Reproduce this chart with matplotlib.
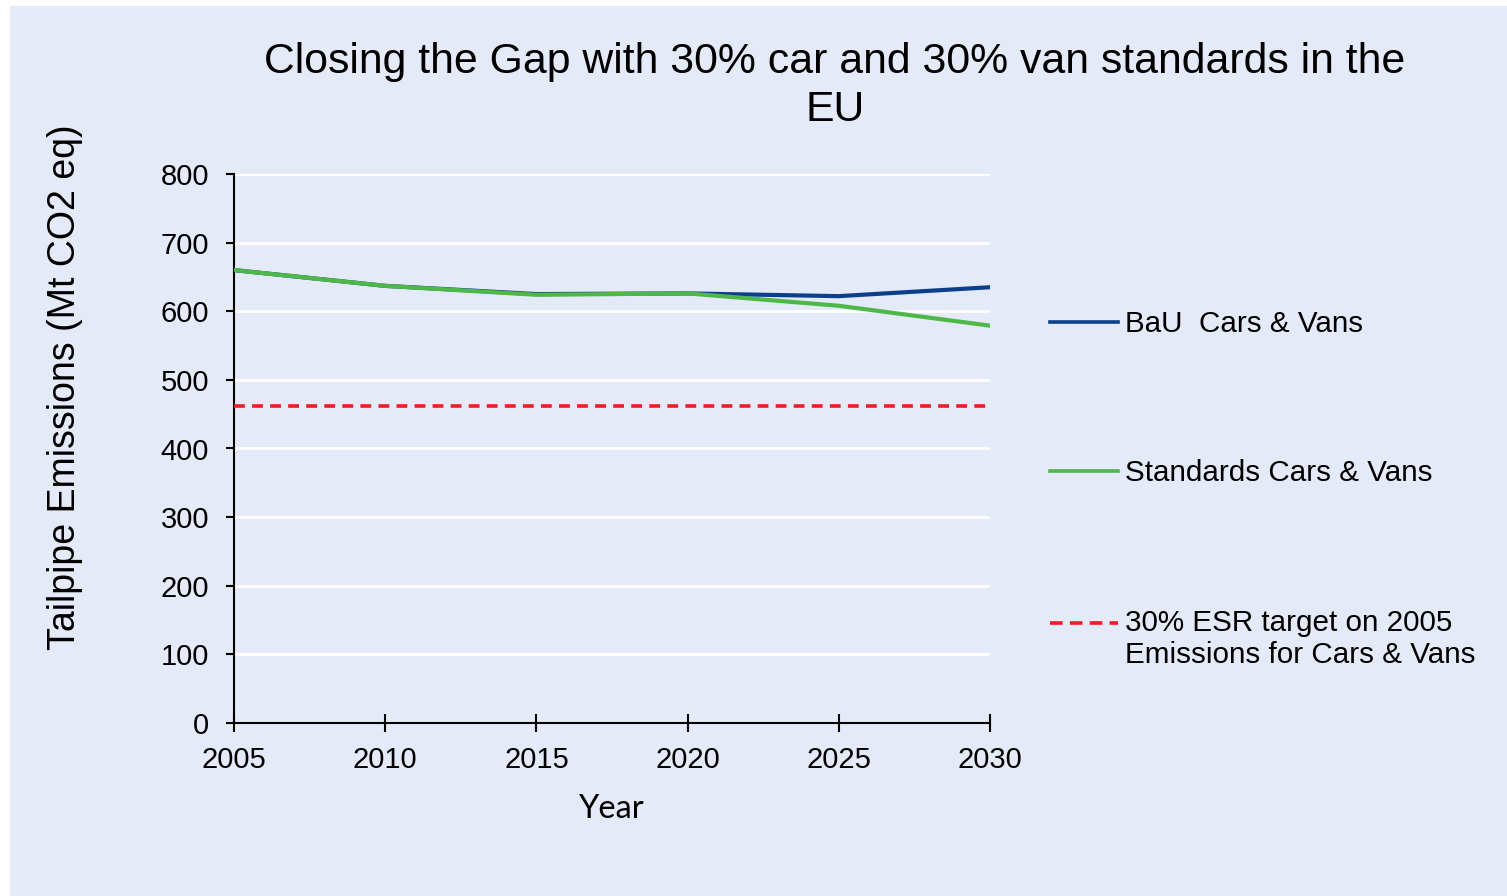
import matplotlib.pyplot as plt
from matplotlib.patches import Rectangle

# Tailpipe emissions, Mt CO2 eq
years = [2005, 2010, 2015, 2020, 2025, 2030]
bau = [660, 637, 625, 626, 622, 635]
standards = [660, 637, 624, 626, 608, 579]
esr_target = 462

bau_color = '#0B3F8C'
std_color = '#4DB848'
esr_color = '#EE1C25'
bg_color = '#E4EAF7'

plt.rcParams['font.family'] = ['Liberation Sans', 'DejaVu Sans']

fig = plt.figure(figsize=(15.07, 8.96), dpi=100, facecolor='white')
fig.patches.append(Rectangle((10 / 1507, 0), 1, 890 / 896, transform=fig.transFigure,
                             facecolor=bg_color, edgecolor='none', zorder=-10))

ax = fig.add_axes([234 / 1507, 1 - 723 / 896, (990 - 234) / 1507, (723 - 174) / 896])
ax.set_facecolor(bg_color)

ax.plot(years, bau, color=bau_color, lw=3.0, label='BaU  Cars & Vans', zorder=3)
ax.plot(years, standards, color=std_color, lw=3.0, label='Standards Cars & Vans', zorder=4)
ax.plot([years[0], years[-1]], [esr_target, esr_target], color=esr_color, lw=2.6,
        ls=(0, (3, 2)), label='30% ESR target on 2005\nEmissions for Cars & Vans', zorder=3)

ax.set_xlim(2005, 2030)
ax.set_ylim(0, 800)
ax.set_xticks(years)
ax.set_yticks(range(0, 801, 100))
ax.grid(axis='y', color='white', lw=2)
ax.set_axisbelow(True)

for side in ['top', 'right']:
    ax.spines[side].set_visible(False)
for side in ['left', 'bottom']:
    ax.spines[side].set_color('black')
    ax.spines[side].set_linewidth(1.5)

ax.tick_params(axis='y', direction='out', length=6, width=1.5, pad=12, labelsize=21)
ax.tick_params(axis='x', direction='inout', length=13, width=1.5, pad=10, labelsize=21)

fig.text(835 / 1507, 1 - 86 / 896,
         'Closing the Gap with 30% car and 30% van standards in the\nEU',
         ha='center', va='center', fontsize=30.8, linespacing=1.27)
fig.text(65 / 1507, 1 - 387 / 896, 'Tailpipe Emissions (Mt CO2 eq)',
         rotation=90, ha='center', va='center', fontsize=27)
fig.text(612 / 1507, 1 - 809 / 896, 'Year', ha='center', va='center',
         fontsize=23.5, family=['Lato', 'DejaVu Sans'])

handles, labels = ax.get_legend_handles_labels()
leg = fig.legend(handles, labels, loc='upper left',
                 bbox_to_anchor=(1050 / 1507, 1 - 310 / 896), frameon=False,
                 fontsize=21.3, handlelength=2.3, handletextpad=0.25,
                 labelspacing=4.1, borderpad=0, borderaxespad=0)
for line in leg.get_lines():
    line.set_linewidth(2.6)

# the two-line entry keeps its key level with the first line of text
esr_key = leg.get_lines()[2]
esr_key.set_ydata([y + 12 for y in esr_key.get_ydata()])
esr_key.set_dashes([3.5, 2])

fig.savefig('out.png', dpi=100, facecolor='white')
